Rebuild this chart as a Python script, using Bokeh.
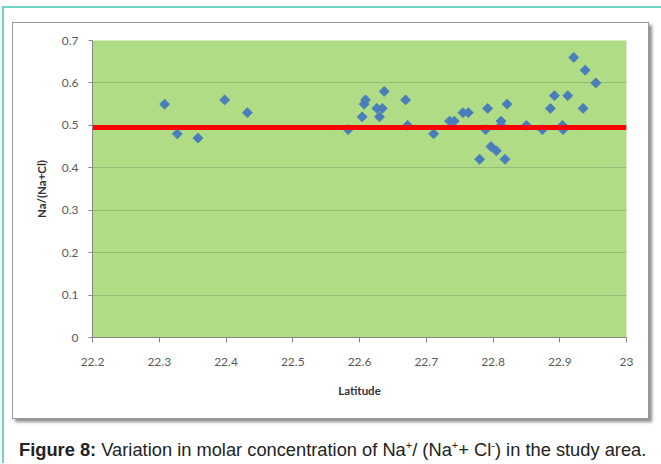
from bokeh.plotting import figure
from bokeh.models import Div, NumeralTickFormatter, FixedTicker
from bokeh.layouts import column
from bokeh.embed import file_html
from bokeh.resources import INLINE
import numpy as np

latitude = [22.308, 22.327, 22.358, 22.398, 22.432, 22.583, 22.604, 22.607, 22.609, 22.626,
            22.630, 22.634, 22.637, 22.669, 22.672, 22.711, 22.735, 22.742, 22.755, 22.763,
            22.780, 22.789, 22.792, 22.797, 22.805, 22.812, 22.812, 22.818, 22.821, 22.850,
            22.874, 22.886, 22.892, 22.904, 22.905, 22.912, 22.921, 22.935, 22.938, 22.954]
na_ratio = [0.55, 0.48, 0.47, 0.56, 0.53, 0.49, 0.52, 0.55, 0.56, 0.54,
            0.52, 0.54, 0.58, 0.56, 0.50, 0.48, 0.51, 0.51, 0.53, 0.53,
            0.42, 0.49, 0.54, 0.45, 0.44, 0.51, 0.50, 0.42, 0.55, 0.50,
            0.49, 0.54, 0.57, 0.50, 0.49, 0.57, 0.66, 0.54, 0.63, 0.60]
reference_line_x = [22.2, 23.0]
reference_line_y = [0.495, 0.495]
x_ticks = [22.2, 22.3, 22.4, 22.5, 22.6, 22.7, 22.8, 22.9, 23.0]
y_ticks = [0, 0.1, 0.2, 0.3, 0.4, 0.5, 0.6, 0.7]

p = figure(x_range=(22.2, 23.0), y_range=(0, 0.7),
           frame_width=532, frame_height=295,
           min_border_left=79, min_border_right=24, min_border_top=17, min_border_bottom=83,
           output_backend="svg", toolbar_location=None,
           background_fill_color="#b0dc85", border_fill_color="white",
           margin=(14, 0, 0, 8),
           styles={"border": "1px solid #9a9a9a",
                   "box-shadow": "3px 3px 3px rgba(0,0,0,0.45)"})
p.outline_line_color = None
p.xgrid.grid_line_color = None
p.ygrid.grid_line_color = "#93bc76"
p.ygrid.grid_line_width = 1

p.xaxis.ticker = FixedTicker(ticks=x_ticks)
p.yaxis.ticker = FixedTicker(ticks=y_ticks)
p.xaxis.formatter = NumeralTickFormatter(format="0.[0]")
p.yaxis.formatter = NumeralTickFormatter(format="0.[0]")
for ax in (p.xaxis, p.yaxis):
    ax.axis_line_color = "#868686"
    ax.major_tick_line_color = "#868686"
    ax.minor_tick_line_color = None
    ax.major_tick_in = 0
    ax.major_label_text_font = "Lato"
    ax.major_label_text_font_size = "12px"
    ax.major_label_text_color = "#595959"
    ax.axis_label_text_font = "Lato"
    ax.axis_label_text_font_size = "11.5px"
    ax.axis_label_text_font_style = "bold"
    ax.axis_label_text_color = "#333333"
p.xaxis.major_tick_out = 5
p.yaxis.major_tick_out = 4
p.xaxis.major_label_standoff = 15
p.yaxis.major_label_standoff = 10
p.xaxis.axis_label = "Latitude"
p.yaxis.axis_label = "Na/(Na+Cl)"
p.xaxis.axis_label_standoff = 15
p.yaxis.axis_label_standoff = 11

p.scatter(latitude, na_ratio, marker="square", angle=np.pi / 4, size=7,
          fill_color="#4a7ebb", line_color="#4a7ebb")
p.line(reference_line_x, reference_line_y, line_color="#ff0000", line_width=5)

sup = '<sup style="font-size:60%">'
caption = Div(text='<b>Figure 8:</b> Variation in molar concentration of Na' + sup + '+</sup>/ '
                   '(Na' + sup + '+</sup>+ Cl' + sup + '-</sup>) in the study area.',
              width=645, margin=(18, 0, 0, 15),
              styles={"font-family": "'Liberation Sans', Arial, sans-serif",
                      "font-size": "18.3px", "color": "#222222"})

layout = column(p, caption, margin=(6, 0, 0, 2),
                styles={"border-left": "2px solid #70d4c5",
                        "border-top": "2px solid #70d4c5"})

open("out.html", "w").write(file_html(layout, INLINE))
